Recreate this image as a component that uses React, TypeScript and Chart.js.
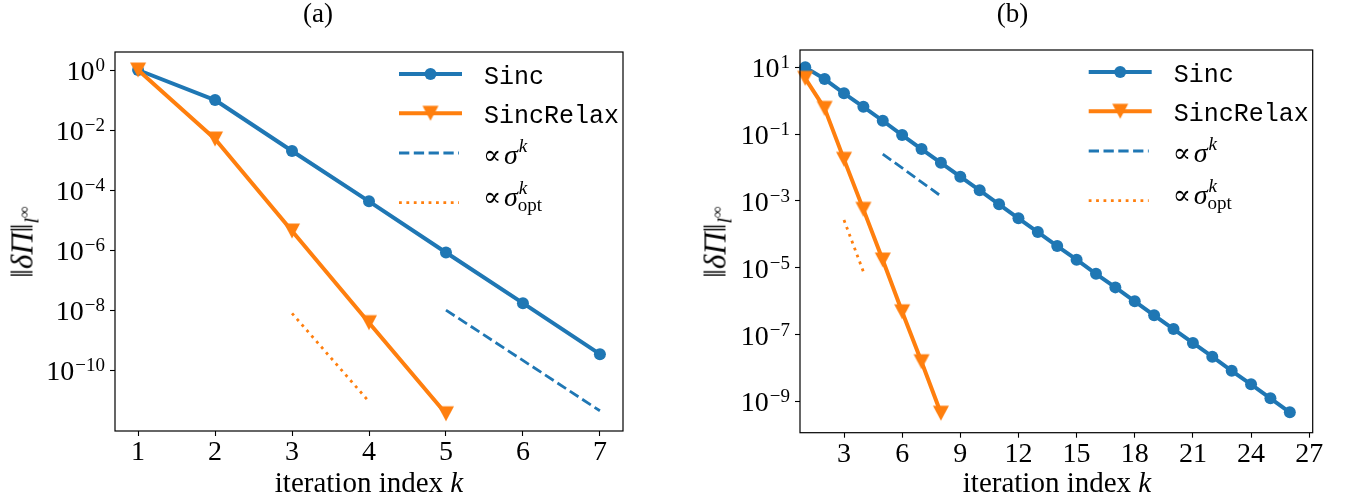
import React, { useEffect, useRef } from 'react';
import { Chart, registerables } from 'chart.js';
Chart.register(...registerables);

const BLUE = '#1f77b4';
const ORANGE = '#ff7f0e';
const SERIF = '"Liberation Serif", "DejaVu Serif", serif';
const MONO = '"Liberation Mono", "DejaVu Sans Mono", monospace';

// ---------- panel (a) ----------
const iterA = [1, 2, 3, 4, 5, 6, 7];
const sincA = [1, 1.0e-1, 2.0e-3, 4.2e-5, 8.3e-7, 1.7e-8, 3.4e-10];
const iterRelaxA = [1, 2, 3, 4, 5];
const relaxA = [1, 5.0e-3, 4.3e-6, 3.8e-9, 3.5e-12];
const iterSigmaA = [5, 7];
const sigmaA = [1.0e-8, 4.4e-12];
const iterSigmaOptA = [3, 4];
const sigmaOptA = [7.8e-9, 8.9e-12];
const xTicksA = [1, 2, 3, 4, 5, 6, 7];
const yTickExpA = [0, -2, -4, -6, -8, -10];

// ---------- panel (b) ----------
const iterB = [1, 2, 3, 4, 5, 6, 7, 8, 9, 10, 11, 12, 13, 14, 15, 16, 17, 18, 19, 20, 21, 22, 23, 24, 25, 26];
const sincB = [10, 4.47, 1.67, 0.66, 0.252, 0.094, 0.0358, 0.0139, 5.31e-3, 2.08e-3, 7.9e-4, 3.01e-4, 1.17e-4,
  4.47e-5, 1.74e-5, 6.6e-6, 2.58e-6, 9.9e-7, 3.76e-7, 1.46e-7, 5.6e-8, 2.17e-8, 8.2e-9, 3.23e-9, 1.23e-9, 4.69e-10];
const iterRelaxB = [1, 2, 3, 4, 5, 6, 7, 8];
const relaxB = [4.69, 0.59, 0.0176, 5.6e-4, 1.7e-5, 4.8e-7, 1.53e-8, 4.4e-10];
const iterSigmaB = [5, 8];
const sigmaB = [2.54e-2, 1.4e-3];
const iterSigmaOptB = [3, 4];
const sigmaOptB = [2.68e-4, 7.6e-6];
const xTicksB = [3, 6, 9, 12, 15, 18, 21, 24, 27];
const yTickExpB = [1, -1, -3, -5, -7, -9];

const seriesLabels = ['Sinc', 'SincRelax', '∝ σ^k', '∝ σ_opt^k'];

function xy(xs: number[], ys: number[]) {
  return xs.map((x, i) => ({ x, y: ys[i] }));
}

function makeTriangle(color: string) {
  const c = document.createElement('canvas');
  c.width = 18;
  c.height = 18;
  const g = c.getContext('2d')!;
  g.fillStyle = color;
  g.beginPath();
  g.moveTo(1, 1.5);
  g.lineTo(17, 1.5);
  g.lineTo(9, 16.5);
  g.closePath();
  g.fill();
  return c;
}

type PanelCfg = {
  left: number;
  width: number;
  yAxisWidth: number;
  xAxisHeight: number;
  padTop: number;
  padRight: number;
  xMin: number;
  xMax: number;
  yMinExp: number;
  yMaxExp: number;
  iter: number[];
  sinc: number[];
  iterRelax: number[];
  relax: number[];
  iterSigma: number[];
  sigma: number[];
  iterSigmaOpt: number[];
  sigmaOpt: number[];
  xTicks: number[];
  yTickExp: number[];
};

const cfgA: PanelCfg = {
  left: 0, width: 680, yAxisWidth: 115, xAxisHeight: 70, padTop: 52, padRight: 57,
  xMin: 0.7, xMax: 7.3, yMinExp: -12.03, yMaxExp: 0.6,
  iter: iterA, sinc: sincA, iterRelax: iterRelaxA, relax: relaxA,
  iterSigma: iterSigmaA, sigma: sigmaA, iterSigmaOpt: iterSigmaOptA, sigmaOpt: sigmaOptA,
  xTicks: xTicksA, yTickExp: yTickExpA,
};

const cfgB: PanelCfg = {
  left: 680, width: 667, yAxisWidth: 120, xAxisHeight: 68.3, padTop: 50, padRight: 34.3,
  xMin: 0.73, xMax: 27.18, yMinExp: -9.94, yMaxExp: 1.52,
  iter: iterB, sinc: sincB, iterRelax: iterRelaxB, relax: relaxB,
  iterSigma: iterSigmaB, sigma: sigmaB, iterSigmaOpt: iterSigmaOptB, sigmaOpt: sigmaOptB,
  xTicks: xTicksB, yTickExp: yTickExpB,
};

const framePlugin = {
  id: 'frame',
  afterDraw(chart: any) {
    const { ctx, chartArea: a } = chart;
    ctx.save();
    ctx.strokeStyle = '#000';
    ctx.lineWidth = 1.2;
    ctx.setLineDash([]);
    ctx.strokeRect(a.left, a.top, a.right - a.left, a.bottom - a.top);
    ctx.restore();
  },
};

const yLabelPlugin = {
  id: 'ylabels',
  afterDraw(chart: any) {
    const { ctx, chartArea: a } = chart;
    const s = chart.scales.y;
    ctx.save();
    ctx.fillStyle = '#000';
    ctx.textAlign = 'left';
    ctx.textBaseline = 'alphabetic';
    s.ticks.forEach((t: any) => {
      const y = s.getPixelForValue(t.value);
      const e = Math.round(Math.log10(t.value));
      const es = (e < 0 ? '\u2212' : '') + Math.abs(e);
      ctx.font = `19px ${SERIF}`;
      const ew = ctx.measureText(es).width;
      ctx.font = `28px ${SERIF}`;
      const bw = ctx.measureText('10').width;
      const right = a.left - 10;
      ctx.fillText('10', right - ew - bw - 1, y + 10);
      ctx.font = `19px ${SERIF}`;
      ctx.fillText(es, right - ew, y + 1);
    });
    ctx.restore();
  },
};

function makeLegendPlugin(tri: HTMLCanvasElement) {
  return {
    id: 'mplLegend',
    afterDraw(chart: any) {
      const { ctx, chartArea: a } = chart;
      const x0 = a.right - 224;
      const x1 = a.right - 161;
      const xm = (x0 + x1) / 2;
      const tx = a.right - 139;
      const ys = [22, 61.3, 101, 150.7].map((d) => a.top + d);
      ctx.save();
      ctx.lineCap = 'butt';
      // row 1
      ctx.strokeStyle = BLUE;
      ctx.lineWidth = 4;
      ctx.setLineDash([]);
      ctx.beginPath(); ctx.moveTo(x0, ys[0]); ctx.lineTo(x1, ys[0]); ctx.stroke();
      ctx.fillStyle = BLUE;
      ctx.beginPath(); ctx.arc(xm, ys[0], 6, 0, Math.PI * 2); ctx.fill();
      // row 2
      ctx.strokeStyle = ORANGE;
      ctx.beginPath(); ctx.moveTo(x0, ys[1]); ctx.lineTo(x1, ys[1]); ctx.stroke();
      ctx.drawImage(tri, xm - tri.width / 2, ys[1] - tri.height / 2);
      // row 3
      ctx.strokeStyle = BLUE;
      ctx.lineWidth = 2.8;
      ctx.setLineDash([10.3, 4.5]);
      ctx.beginPath(); ctx.moveTo(x0, ys[2]); ctx.lineTo(x1 - 3, ys[2]); ctx.stroke();
      // row 4
      ctx.strokeStyle = ORANGE;
      ctx.setLineDash([2.8, 4.6]);
      ctx.beginPath(); ctx.moveTo(x0, ys[3]); ctx.lineTo(x1 - 3, ys[3]); ctx.stroke();
      ctx.setLineDash([]);

      ctx.fillStyle = '#000';
      ctx.textAlign = 'left';
      ctx.textBaseline = 'alphabetic';
      ctx.font = `25px ${MONO}`;
      ctx.fillText(seriesLabels[0], tx, ys[0] + 10);
      ctx.fillText(seriesLabels[1], tx, ys[1] + 10);

      const drawProp = (base: number, sub: boolean) => {
        ctx.font = `27px "DejaVu Serif", serif`;
        ctx.fillText('\u221D', tx - 1, base);
        ctx.font = `italic 28px ${SERIF}`;
        ctx.fillText('\u03C3', tx + 20, base);
        const sw = ctx.measureText('\u03C3').width;
        ctx.font = `italic 19px ${SERIF}`;
        ctx.fillText('k', tx + 20 + sw + 1, base - 12);
        if (sub) {
          ctx.font = `19px ${SERIF}`;
          ctx.fillText('opt', tx + 20 + sw, base + 5);
        }
      };
      drawProp(ys[2] + 11, false);
      drawProp(ys[3] + 3, true);
      ctx.restore();
    },
  };
}

function Panel({ cfg }: { cfg: PanelCfg }) {
  const ref = useRef<HTMLCanvasElement>(null);
  useEffect(() => {
    const tri = makeTriangle(ORANGE);
    const tickGrid = {
      display: true,
      drawOnChartArea: false,
      drawTicks: true,
      tickLength: 5,
      tickColor: '#000',
      tickWidth: 1.1,
    };
    const chart = new Chart(ref.current!, {
      type: 'line',
      data: {
        datasets: [
          {
            label: seriesLabels[0],
            data: xy(cfg.iter, cfg.sinc),
            borderColor: BLUE,
            backgroundColor: BLUE,
            borderWidth: 4,
            borderJoinStyle: 'round',
            pointStyle: 'circle',
            pointRadius: 6,
            pointHoverRadius: 6,
            pointBackgroundColor: BLUE,
            pointBorderWidth: 0,
            order: 4,
            clip: false,
          },
          {
            label: seriesLabels[1],
            data: xy(cfg.iterRelax, cfg.relax),
            borderColor: ORANGE,
            backgroundColor: ORANGE,
            borderWidth: 4,
            borderJoinStyle: 'round',
            pointStyle: tri,
            pointRadius: 8,
            pointHoverRadius: 8,
            order: 3,
            clip: false,
          },
          {
            label: seriesLabels[2],
            data: xy(cfg.iterSigma, cfg.sigma),
            borderColor: BLUE,
            borderWidth: 2.8,
            borderDash: [10.3, 4.5],
            pointRadius: 0,
            order: 2,
          },
          {
            label: seriesLabels[3],
            data: xy(cfg.iterSigmaOpt, cfg.sigmaOpt),
            borderColor: ORANGE,
            borderWidth: 2.8,
            borderDash: [2.8, 4.6],
            pointRadius: 0,
            order: 1,
          },
        ] as any,
      },
      options: {
        animation: false,
        responsive: false,
        devicePixelRatio: 1,
        events: [],
        layout: { padding: { left: 0, top: cfg.padTop, right: cfg.padRight, bottom: 0 } },
        plugins: { legend: { display: false }, tooltip: { enabled: false }, title: { display: false } },
        scales: {
          x: {
            type: 'linear',
            bounds: 'data',
            min: cfg.xMin,
            max: cfg.xMax,
            afterBuildTicks: (s: any) => {
              s.ticks = cfg.xTicks.map((v) => ({ value: v }));
            },
            afterFit: (s: any) => {
              s.height = cfg.xAxisHeight;
            },
            grid: tickGrid,
            border: { display: false },
            ticks: {
              autoSkip: false,
              maxRotation: 0,
              padding: 0,
              color: '#000',
              font: { family: SERIF, size: 28 },
            },
          },
          y: {
            type: 'logarithmic',
            bounds: 'data',
            min: Math.pow(10, cfg.yMinExp),
            max: Math.pow(10, cfg.yMaxExp),
            afterBuildTicks: (s: any) => {
              s.ticks = cfg.yTickExp.map((e) => ({ value: Math.pow(10, e) }));
            },
            afterFit: (s: any) => {
              s.width = cfg.yAxisWidth;
            },
            grid: tickGrid,
            border: { display: false },
            ticks: { display: false },
          },
        },
      } as any,
      plugins: [framePlugin, yLabelPlugin, makeLegendPlugin(tri)],
    });
    return () => chart.destroy();
  }, [cfg]);
  return (
    <canvas
      ref={ref}
      width={cfg.width}
      height={501}
      style={{ position: 'absolute', left: cfg.left, top: 0, width: cfg.width, height: 501 }}
    />
  );
}

const textBase: React.CSSProperties = {
  position: 'absolute',
  fontFamily: SERIF,
  color: '#000',
  whiteSpace: 'nowrap',
  lineHeight: 1,
};

function YLabel({ cx, cy }: { cx: number; cy: number }) {
  return (
    <div
      style={{
        ...textBase,
        left: cx,
        top: cy,
        fontSize: 31,
        transform: 'translate(-50%, -50%) rotate(-90deg)',
      }}
    >
      ‖<i>δΠ</i>‖
      <sub style={{ fontSize: '0.66em', lineHeight: 0, verticalAlign: '-0.3em' }}>
        <i>l</i>
        <sup style={{ fontSize: '0.8em', lineHeight: 0, verticalAlign: '0.55em' }}>∞</sup>
      </sub>
    </div>
  );
}

function XLabel({ cx }: { cx: number }) {
  return (
    <div style={{ ...textBase, left: cx, top: 492 - 0.8375 * 29, fontSize: 29, transform: 'translateX(-50%)' }}>
      iteration index <i>k</i>
    </div>
  );
}

function Title({ cx, text }: { cx: number; text: string }) {
  return (
    <div style={{ ...textBase, left: cx, top: 23 - 0.8375 * 27, fontSize: 27, transform: 'translateX(-50%)' }}>
      {text}
    </div>
  );
}

export default function App() {
  return (
    <div style={{ position: 'absolute', left: 0, top: 0, width: 1347, height: 501, background: '#fff', overflow: 'hidden' }}>
      <Panel cfg={cfgA} />
      <Panel cfg={cfgB} />
      <Title cx={318} text="(a)" />
      <Title cx={1012.5} text="(b)" />
      <XLabel cx={369} />
      <XLabel cx={1057} />
      <YLabel cx={22} cy={242} />
      <YLabel cx={715} cy={242} />
    </div>
  );
}
